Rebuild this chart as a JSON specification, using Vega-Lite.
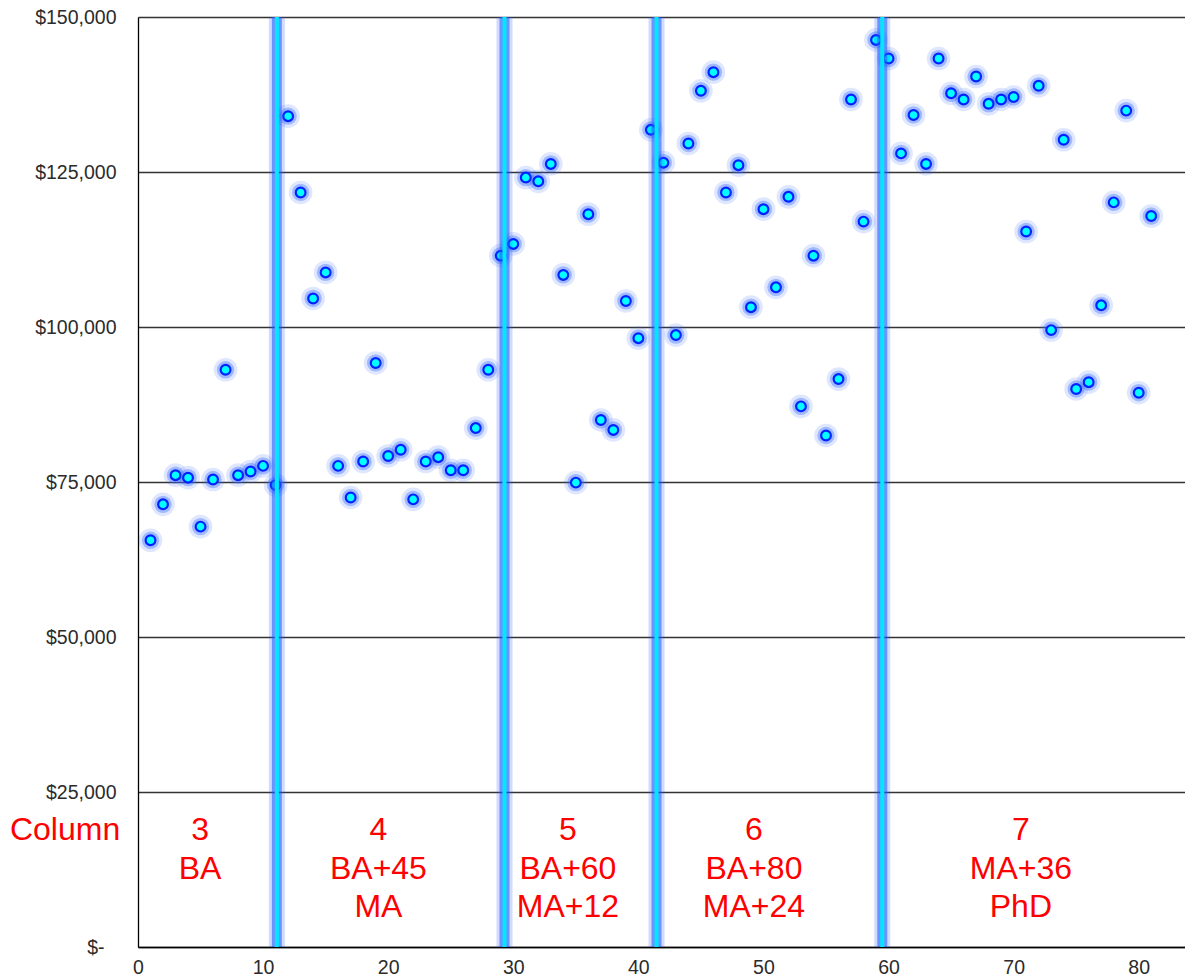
{
  "$schema": "https://vega.github.io/schema/vega-lite/v6.json",
  "width": 1047,
  "height": 930,
  "autosize": {"type": "none"},
  "padding": {"left": 138, "top": 17, "right": 0, "bottom": 32},
  "background": "white",
  "config": {"view": {"stroke": null}, "font": "Liberation Sans"},
  "datasets": {
    "points": [
      {"n": 1, "salary": 65600}, {"n": 2, "salary": 71400}, {"n": 3, "salary": 76100}, {"n": 4, "salary": 75700},
      {"n": 5, "salary": 67800}, {"n": 6, "salary": 75400}, {"n": 7, "salary": 93100}, {"n": 8, "salary": 76100},
      {"n": 9, "salary": 76700}, {"n": 10, "salary": 77600}, {"n": 11, "salary": 74500}, {"n": 12, "salary": 134000},
      {"n": 13, "salary": 121700}, {"n": 14, "salary": 104600}, {"n": 15, "salary": 108800}, {"n": 16, "salary": 77600},
      {"n": 17, "salary": 72500}, {"n": 18, "salary": 78300}, {"n": 19, "salary": 94200}, {"n": 20, "salary": 79200},
      {"n": 21, "salary": 80200}, {"n": 22, "salary": 72200}, {"n": 23, "salary": 78300}, {"n": 24, "salary": 79000},
      {"n": 25, "salary": 76900}, {"n": 26, "salary": 76900}, {"n": 27, "salary": 83700}, {"n": 28, "salary": 93100},
      {"n": 29, "salary": 111500}, {"n": 30, "salary": 113400}, {"n": 31, "salary": 124100}, {"n": 32, "salary": 123500},
      {"n": 33, "salary": 126300}, {"n": 34, "salary": 108400}, {"n": 35, "salary": 74900}, {"n": 36, "salary": 118200},
      {"n": 37, "salary": 85000}, {"n": 38, "salary": 83400}, {"n": 39, "salary": 104200}, {"n": 40, "salary": 98200},
      {"n": 41, "salary": 131800}, {"n": 42, "salary": 126500}, {"n": 43, "salary": 98700}, {"n": 44, "salary": 129600},
      {"n": 45, "salary": 138100}, {"n": 46, "salary": 141100}, {"n": 47, "salary": 121700}, {"n": 48, "salary": 126100},
      {"n": 49, "salary": 103200}, {"n": 50, "salary": 119000}, {"n": 51, "salary": 106400}, {"n": 52, "salary": 121000},
      {"n": 53, "salary": 87200}, {"n": 54, "salary": 111500}, {"n": 55, "salary": 82500}, {"n": 56, "salary": 91600},
      {"n": 57, "salary": 136700}, {"n": 58, "salary": 117000}, {"n": 59, "salary": 146300}, {"n": 60, "salary": 143300},
      {"n": 61, "salary": 128000}, {"n": 62, "salary": 134200}, {"n": 63, "salary": 126300}, {"n": 64, "salary": 143300},
      {"n": 65, "salary": 137700}, {"n": 66, "salary": 136700}, {"n": 67, "salary": 140400}, {"n": 68, "salary": 136000},
      {"n": 69, "salary": 136700}, {"n": 70, "salary": 137100}, {"n": 71, "salary": 115400}, {"n": 72, "salary": 138900},
      {"n": 73, "salary": 99500}, {"n": 74, "salary": 130200}, {"n": 75, "salary": 90000}, {"n": 76, "salary": 91100},
      {"n": 77, "salary": 103500}, {"n": 78, "salary": 120100}, {"n": 79, "salary": 134900}, {"n": 80, "salary": 89400},
      {"n": 81, "salary": 117900}
    ],
    "dividers": [
      {"n": 11.1, "salary": 0, "top": 150000},
      {"n": 29.3, "salary": 0, "top": 150000},
      {"n": 41.45, "salary": 0, "top": 150000},
      {"n": 59.5, "salary": 0, "top": 150000}
    ],
    "labels": [
      {"n": -5.83, "salary": 18871, "text": "Column"},
      {"n": 4.96, "salary": 18871, "text": "3"},
      {"n": 4.96, "salary": 12581, "text": "BA"},
      {"n": 19.22, "salary": 18871, "text": "4"},
      {"n": 19.22, "salary": 12581, "text": "BA+45"},
      {"n": 19.22, "salary": 6452, "text": "MA"},
      {"n": 34.37, "salary": 18871, "text": "5"},
      {"n": 34.37, "salary": 12581, "text": "BA+60"},
      {"n": 34.37, "salary": 6452, "text": "MA+12"},
      {"n": 49.24, "salary": 18871, "text": "6"},
      {"n": 49.24, "salary": 12581, "text": "BA+80"},
      {"n": 49.24, "salary": 6452, "text": "MA+24"},
      {"n": 70.58, "salary": 18871, "text": "7"},
      {"n": 70.58, "salary": 12581, "text": "MA+36"},
      {"n": 70.58, "salary": 6452, "text": "PhD"}
    ]
  },
  "encoding": {
    "x": {
      "field": "n", "type": "quantitative",
      "scale": {"domain": [0, 83.7], "nice": false, "zero": false},
      "axis": {
        "title": null, "values": [0, 10, 20, 30, 40, 50, 60, 70, 80],
        "domain": true, "domainColor": "#000000", "domainWidth": 1.3,
        "ticks": false, "grid": false, "labelFlush": false,
        "labelFontSize": 19.5, "labelColor": "#2b2b2b", "labelPadding": 11
      }
    },
    "y": {
      "field": "salary", "type": "quantitative",
      "scale": {"domain": [0, 150000], "nice": false},
      "axis": {
        "title": null, "values": [0, 25000, 50000, 75000, 100000, 125000, 150000],
        "domain": true, "domainColor": "#000000", "domainWidth": 1.3,
        "ticks": false, "grid": true, "gridColor": "#333333", "gridWidth": 1.3,
        "labelFlush": false, "labelFontSize": 19.5, "labelColor": "#2b2b2b",
        "labelPadding": {"condition": {"test": "datum.value == 0", "value": 34}, "value": 22},
        "labelExpr": "datum.value == 0 ? '$-' : '$' + format(datum.value, ',')"
      }
    }
  },
  "layer": [
    {
      "data": {"name": "points"},
      "mark": {"type": "circle", "size": 560, "color": "#3a6bff", "opacity": 0.16}
    },
    {
      "data": {"name": "points"},
      "mark": {"type": "circle", "size": 300, "color": "#3a6bff", "opacity": 0.38}
    },
    {
      "data": {"name": "points"},
      "mark": {"type": "circle", "size": 95, "fill": "#00ffff", "fillOpacity": 1, "stroke": "#0022ff", "strokeWidth": 2.2, "opacity": 1}
    },
    {
      "data": {"name": "dividers"},
      "mark": {"type": "rule", "color": "#2a5cff", "strokeWidth": 16, "opacity": 0.22},
      "encoding": {"y2": {"field": "top"}}
    },
    {
      "data": {"name": "dividers"},
      "mark": {"type": "rule", "color": "#1f55ff", "strokeWidth": 10, "opacity": 0.55},
      "encoding": {"y2": {"field": "top"}}
    },
    {
      "data": {"name": "dividers"},
      "mark": {"type": "rule", "color": "#00e8ff", "strokeWidth": 4},
      "encoding": {"y2": {"field": "top"}}
    },
    {
      "data": {"name": "labels"},
      "mark": {"type": "text", "color": "#ff0000", "fontSize": 32, "font": "Liberation Sans", "align": "center", "baseline": "middle"},
      "encoding": {"text": {"field": "text"}}
    }
  ]
}
